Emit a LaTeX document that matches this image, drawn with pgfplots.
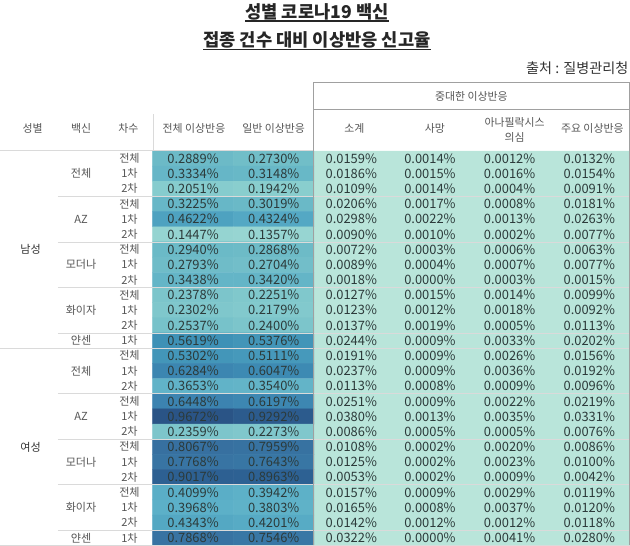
\documentclass[border=0pt]{standalone}
\usepackage{pgfplots}
\pgfplotsset{compat=1.18}
\usepackage{pgfplotstable}
\usepackage{fontspec}
\setmainfont{Noto Sans CJK KR}

\definecolor{mint}{HTML}{B9E5DA}
\definecolor{numtxt}{HTML}{2C3A3A}
\definecolor{hdrtxt}{HTML}{555555}
\definecolor{sepline}{HTML}{DADADA}
\definecolor{frameline}{HTML}{A0A0A0}

\newcommand{\ul}[1]{\setbox0\hbox{#1}\rlap{\rule[-3.5pt]{\wd0}{1.3pt}}\box0}

% blue part: column (0/1), row, value
\pgfplotstableread{
c r v
0 0 0.2889
1 0 0.2730
0 1 0.3334
1 1 0.3148
0 2 0.2051
1 2 0.1942
0 3 0.3225
1 3 0.3019
0 4 0.4622
1 4 0.4324
0 5 0.1447
1 5 0.1357
0 6 0.2940
1 6 0.2868
0 7 0.2793
1 7 0.2704
0 8 0.3438
1 8 0.3420
0 9 0.2378
1 9 0.2251
0 10 0.2302
1 10 0.2179
0 11 0.2537
1 11 0.2400
0 12 0.5619
1 12 0.5376
0 13 0.5302
1 13 0.5111
0 14 0.6284
1 14 0.6047
0 15 0.3653
1 15 0.3540
0 16 0.6448
1 16 0.6197
0 17 0.9672
1 17 0.9292
0 18 0.2359
1 18 0.2273
0 19 0.8067
1 19 0.7959
0 20 0.7768
1 20 0.7643
0 21 0.9017
1 21 0.8963
0 22 0.4099
1 22 0.3942
0 23 0.3968
1 23 0.3803
0 24 0.4343
1 24 0.4201
0 25 0.7868
1 25 0.7546
}\bluedata

% serious reactions: 소계, 사망, 아나필락시스 의심, 주요 이상반응
\pgfplotstableread{
r s1 s2 s3 s4 dose
0 0.0159 0.0014 0.0012 0.0132 전체
1 0.0186 0.0015 0.0016 0.0154 1차
2 0.0109 0.0014 0.0004 0.0091 2차
3 0.0206 0.0017 0.0008 0.0181 전체
4 0.0298 0.0022 0.0013 0.0263 1차
5 0.0090 0.0010 0.0002 0.0077 2차
6 0.0072 0.0003 0.0006 0.0063 전체
7 0.0089 0.0004 0.0007 0.0077 1차
8 0.0018 0.0000 0.0003 0.0015 2차
9 0.0127 0.0015 0.0014 0.0099 전체
10 0.0123 0.0012 0.0018 0.0092 1차
11 0.0137 0.0019 0.0005 0.0113 2차
12 0.0244 0.0009 0.0033 0.0202 1차
13 0.0191 0.0009 0.0026 0.0156 전체
14 0.0237 0.0009 0.0036 0.0192 1차
15 0.0113 0.0008 0.0009 0.0096 2차
16 0.0251 0.0009 0.0022 0.0219 전체
17 0.0380 0.0013 0.0035 0.0331 1차
18 0.0086 0.0005 0.0005 0.0076 2차
19 0.0108 0.0002 0.0020 0.0086 전체
20 0.0125 0.0002 0.0023 0.0100 1차
21 0.0053 0.0002 0.0009 0.0042 2차
22 0.0157 0.0009 0.0029 0.0119 전체
23 0.0165 0.0008 0.0037 0.0120 1차
24 0.0142 0.0012 0.0012 0.0118 2차
25 0.0322 0.0000 0.0041 0.0280 1차
}\seriousdata

\pgfplotstableread{
r vac
1 전체
4 AZ
7 모더나
10 화이자
12 얀센
14 전체
17 AZ
20 모더나
23 화이자
25 얀센
}\vaccines

\pgfplotsset{
  numlabels/.style={draw=none, mark=none, point meta=explicit symbolic,
    nodes near coords={\pgfplotspointmeta\%}, nodes near coords align=center,
    every node near coord/.append style={font=\fontsize{12.8}{14}\selectfont, text=numtxt, inner sep=0pt}},
  rowlabels/.style={draw=none, mark=none, point meta=explicit symbolic,
    nodes near coords={\pgfplotspointmeta}, nodes near coords align=center,
    every node near coord/.append style={font=\fontsize{11}{13}\selectfont, text=hdrtxt, inner sep=0pt}},
}

\begin{document}
\begin{tikzpicture}
\begin{axis}[
    width=630pt, height=555pt, scale only axis,
    xmin=0, xmax=630, ymin=0, ymax=555, y dir=reverse,
    hide axis, clip=false, enlargelimits=false,
    colormap={tealblue}{rgb255(13pt)=(152,214,210) rgb255(20pt)=(136,205,206)
      rgb255(29pt)=(108,186,199) rgb255(40pt)=(92,176,200) rgb255(46pt)=(78,162,192)
      rgb255(56pt)=(62,145,182) rgb255(64pt)=(60,132,176) rgb255(78pt)=(56,116,163)
      rgb255(81pt)=(55,112,160) rgb255(90pt)=(45,96,146) rgb255(97pt)=(42,84,134)},
    point meta min=0.13, point meta max=0.97,
]

% mint background of the serious-reaction block
\addplot[fill=mint, draw=none] coordinates {(310,155.2) (624,155.2) (624,546.5) (310,546.5) (310,155.2)};

% blue heat cells
\addplot[matrix plot*, mesh/cols=2, point meta=explicit]
  table[x expr=191+80*\thisrow{c}, y expr=162.7+15.05*\thisrow{r}, meta=v] {\bluedata};

% group separators
\pgfplotsinvokeforeach{200.35,245.5,290.65,335.8,396.0,441.15,486.3,531.45}{
  \addplot[sepline, line width=0.8pt] coordinates {(57,#1) (624,#1)};
}
\addplot[sepline, line width=0.8pt] coordinates {(0,350.85) (624,350.85)};
\addplot[sepline, line width=0.8pt] coordinates {(0,546.5) (624,546.5)};
\addplot[sepline, line width=0.8pt] coordinates {(0,154.8) (310,154.8)};
\addplot[sepline, line width=0.8pt] coordinates {(152,119) (152,154.8)};

% frame of the serious-reaction block
\addplot[frameline, line width=0.8pt] coordinates {(310,546.5) (310,87.5) (624,87.5) (624,546.5)};
\addplot[frameline, line width=0.8pt] coordinates {(310,114) (624,114)};

% numbers
\addplot[numlabels] table[x expr=191+80*\thisrow{c}, y expr=162.7+15.05*\thisrow{r}, meta=v] {\bluedata};
\addplot[numlabels] table[x expr=348, y expr=162.7+15.05*\thisrow{r}, meta=s1] {\seriousdata};
\addplot[numlabels] table[x expr=426, y expr=162.7+15.05*\thisrow{r}, meta=s2] {\seriousdata};
\addplot[numlabels] table[x expr=505, y expr=162.7+15.05*\thisrow{r}, meta=s3] {\seriousdata};
\addplot[numlabels] table[x expr=584, y expr=162.7+15.05*\thisrow{r}, meta=s4] {\seriousdata};

% row labels
\addplot[rowlabels] table[x expr=128, y expr=162.7+15.05*\thisrow{r}, meta=dose] {\seriousdata};
\addplot[rowlabels] table[x expr=80, y expr=162.7+15.05*\thisrow{r}, meta=vac] {\vaccines};
\node[font=\fontsize{11}{13}\selectfont, text=black!80] at (axis cs:30,253) {남성};
\node[font=\fontsize{11}{13}\selectfont, text=black!80] at (axis cs:30,449) {여성};

% titles
\node[font=\fontsize{17.5}{20}\selectfont\bfseries, text=black!85] at (axis cs:314,18) {\ul{성별 코로나19 백신}};
\node[font=\fontsize{17.5}{20}\selectfont\bfseries, text=black!85] at (axis cs:314,46) {\ul{접종 건수 대비 이상반응 신고율}};
\node[font=\fontsize{14}{16}\selectfont, text=black!80, anchor=east, inner sep=0pt] at (axis cs:623,73) {출처 : 질병관리청};

% headers
\node[font=\fontsize{10.8}{13}\selectfont, text=hdrtxt] at (axis cs:467,101) {중대한 이상반응};
\node[font=\fontsize{10.8}{13}\selectfont, text=hdrtxt] at (axis cs:32,133) {성별};
\node[font=\fontsize{10.8}{13}\selectfont, text=hdrtxt] at (axis cs:80,133) {백신};
\node[font=\fontsize{10.8}{13}\selectfont, text=hdrtxt] at (axis cs:127,133) {차수};
\node[font=\fontsize{10.8}{13}\selectfont, text=hdrtxt] at (axis cs:192,133) {전체 이상반응};
\node[font=\fontsize{10.8}{13}\selectfont, text=hdrtxt] at (axis cs:271,133) {일반 이상반응};
\node[font=\fontsize{10.8}{13}\selectfont, text=hdrtxt] at (axis cs:351,133) {소계};
\node[font=\fontsize{10.8}{13}\selectfont, text=hdrtxt] at (axis cs:431,133) {사망};
\node[font=\fontsize{10.8}{15}\selectfont, text=hdrtxt, align=center] at (axis cs:510,134) {아나필락시스\\의심};
\node[font=\fontsize{10.8}{13}\selectfont, text=hdrtxt] at (axis cs:587,133) {주요 이상반응};
\end{axis}
\end{tikzpicture}
\end{document}
